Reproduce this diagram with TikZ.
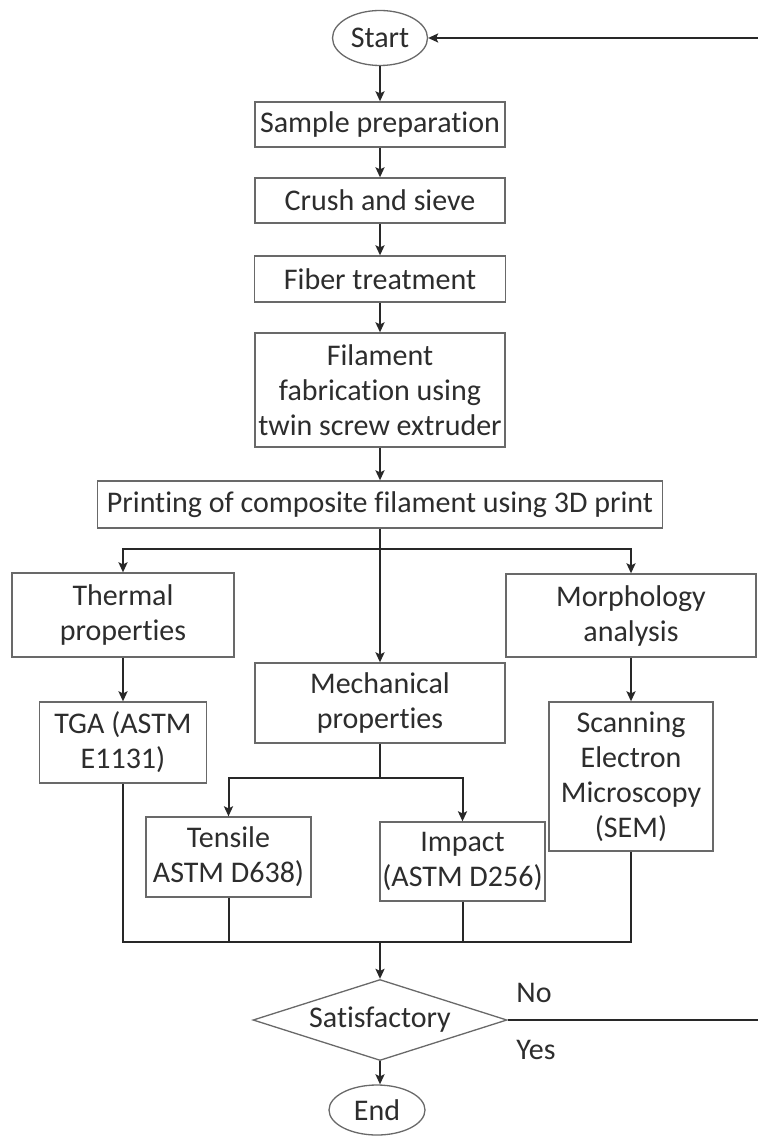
\documentclass[tikz,border=0pt]{standalone}
\usepackage{fontspec}
\setmainfont{Carlito}[Ligatures={NoCommon}]
\definecolor{fcline}{RGB}{40,40,40}
\definecolor{fcbox}{RGB}{105,105,105}
\definecolor{fctext}{RGB}{45,45,45}
\usetikzlibrary{arrows.meta,positioning,shapes.geometric,calc}

\begin{document}
\begin{tikzpicture}[
    x=0.5pt, y=-0.5pt,
    stepbox/.style={rectangle, draw=fcbox, line width=0.65pt, fill=white,
                    font=\fontsize{15}{17.5}\selectfont, text=fctext,
                    align=center, inner sep=0.5pt},
    termnode/.style={ellipse, draw=fcbox, line width=0.65pt, fill=white,
                     font=\fontsize{15}{17}\selectfont, text=fctext, inner sep=0pt},
    dnode/.style={diamond, draw=fcbox, line width=0.65pt, fill=white, aspect=3,
                  font=\fontsize{15}{17}\selectfont, text=fctext, inner sep=0pt,
                  minimum width=127pt, minimum height=40.5pt},
    lbl/.style={font=\fontsize{15}{17}\selectfont, text=fctext},
    link/.style={draw=fcline, line width=1pt},
    arr/.style={link, -{Stealth[length=5pt,width=4.5pt,inset=1pt]}}
  ]
    \useasboundingbox (0,0) rectangle (758,1138);

    \node[termnode, minimum width=47.5pt, minimum height=27.5pt] (start) at (380,38) {Start};
    \node[stepbox, minimum width=125pt, minimum height=22.5pt] (sample) at (380,124.5) {Sample preparation};
    \node[stepbox, minimum width=125pt, minimum height=22.5pt] (crush) at (380,200.5) {Crush and sieve};
    \node[stepbox, minimum width=125.5pt, minimum height=23pt] (fiber) at (380,279) {Fiber treatment};
    \node[stepbox, minimum width=125pt, minimum height=57pt] (filament) at (380,390)
        {Filament\\fabrication using\\twin screw extruder};
    \node[stepbox, minimum width=282.5pt, minimum height=23.5pt] (printing) at (380,504.5)
        {Printing of composite filament using 3D print};

    \node[stepbox, minimum width=111pt, minimum height=42pt] (thermal) at (123,615) {Thermal\\properties};
    \node[stepbox, minimum width=125pt, minimum height=40pt] (mech) at (380,703) {Mechanical\\properties};
    \node[stepbox, minimum width=125pt, minimum height=41.5pt] (morph) at (631,615.5) {Morphology\\analysis};

    \node[stepbox, minimum width=83.5pt, minimum height=40.5pt] (tga) at (123,742.5) {TGA (ASTM\\E1131)};
    \node[stepbox, minimum width=82pt, minimum height=74.5pt] (sem) at (631,776.5)
        {Scanning\\Electron\\Microscopy\\(SEM)};
    \node[stepbox, minimum width=82.5pt, minimum height=40pt] (tensile) at (228.5,857) {Tensile\\ASTM D638)};
    \node[stepbox, minimum width=82.5pt, minimum height=39.5pt] (impact) at (462.5,861.5) {Impact\\(ASTM D256)};

    \node[dnode] (sat) at (380,1020) {Satisfactory};
    \node[termnode, minimum width=48pt, minimum height=25pt] (end) at (377,1110) {End};

    \node[lbl] (no) at (534,993) {No};
    \node[lbl] (yes) at (536,1050) {Yes};

    % Branch points
    \coordinate (split) at (380,549);
    \coordinate (msplit) at (380,778);
    \coordinate (merge) at (380,942);
    \coordinate (loopr) at (775,1020);
    \coordinate (loopt) at (775,38);

    % Arrows
    \draw[arr] (start) -- (sample);
    \draw[arr] (sample) -- (crush);
    \draw[arr] (crush) -- (fiber);
    \draw[arr] (fiber) -- (filament);
    \draw[arr] (filament) -- (printing);
    \draw[link] (printing.south) -- (split);
    \draw[arr] (split) -| (thermal.north);
    \draw[arr] (split) -| (morph.north);
    \draw[arr] (split) -- (mech.north);
    \draw[arr] (thermal) -- (tga);
    \draw[arr] (morph) -- (sem);
    \draw[link] (mech.south) -- (msplit);
    \draw[arr] (msplit) -| (tensile.north);
    \draw[arr] (msplit) -| (impact.north);

    % Merge into the decision
    \draw[link] (tga.south) |- (merge);
    \draw[link] (sem.south) |- (merge);
    \draw[link] (tensile.south) -- (tensile.south |- merge);
    \draw[link] (impact.south) -- (impact.south |- merge);
    \draw[arr] (merge) -- (sat.north);
    \draw[arr] (sat.south) -- (sat.south |- end.north);

    % Loop back when not satisfactory
    \draw[arr] (sat.east) -- (loopr) -- (loopt) -- (start.east);
  \end{tikzpicture}
\end{document}
